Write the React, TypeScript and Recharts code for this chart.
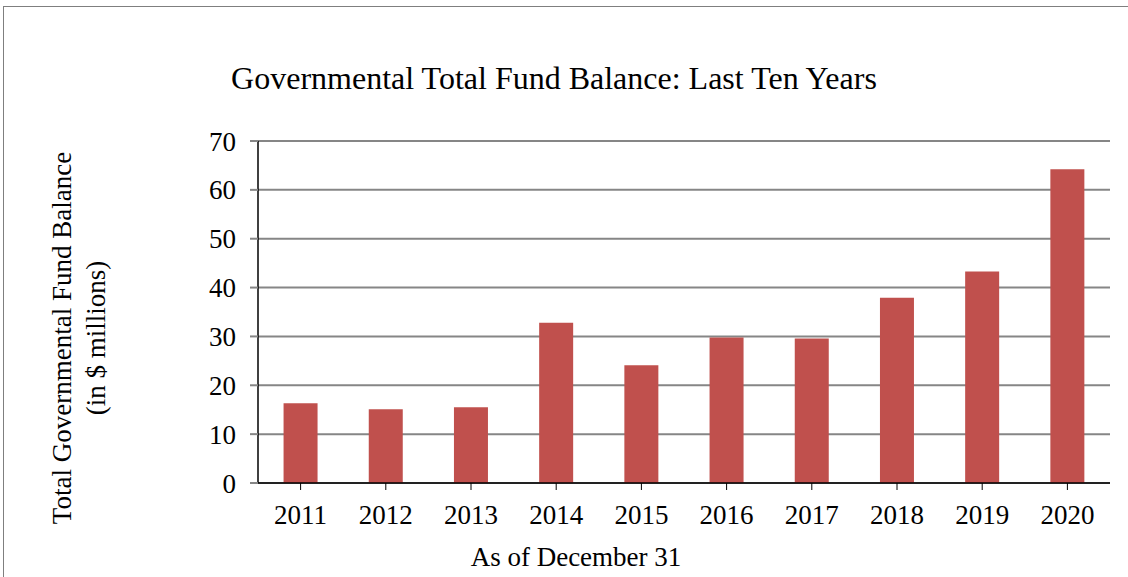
import { BarChart, Bar, XAxis, YAxis, CartesianGrid, Label } from 'recharts';

const years = ['2011', '2012', '2013', '2014', '2015', '2016', '2017', '2018', '2019', '2020'];
const fundBalance = [16.3, 15.1, 15.5, 32.8, 24.1, 29.8, 29.6, 37.9, 43.3, 64.2];
const yTicks = [0, 10, 20, 30, 40, 50, 60, 70];

const data = years.map((year, i) => ({ year, balance: fundBalance[i] }));

const FONT = '"Liberation Serif", "Times New Roman", serif';

const YTitle = () => (
  <text
    transform="translate(79, 338) rotate(-90)"
    textAnchor="middle"
    fontFamily={FONT}
    fontSize={27}
    fill="#000"
  >
    <tspan x={0} dy={-8}>Total Governmental Fund Balance</tspan>
    <tspan x={0} dy={34}>(in $ millions)</tspan>
  </text>
);

const XTitle = () => (
  <text x={576} y={566} textAnchor="middle" fontFamily={FONT} fontSize={27} fill="#000">
    As of December 31
  </text>
);

export default function App() {
  return (
    <div
      style={{
        position: 'absolute',
        left: 0,
        top: 0,
        width: 1128,
        height: 577,
        overflow: 'hidden',
        background: '#fff',
      }}
    >
      <div
        style={{
          position: 'absolute',
          left: 3,
          top: 6,
          width: 1300,
          height: 800,
          border: '1px solid #7f7f7f',
        }}
      />
      <div
        style={{
          position: 'absolute',
          left: 554,
          top: 60,
          transform: 'translateX(-50%)',
          whiteSpace: 'nowrap',
          fontFamily: FONT,
          fontSize: 32,
          color: '#000',
        }}
      >
        Governmental Total Fund Balance: Last Ten Years
      </div>
      <div style={{ position: 'absolute', left: 0, top: 0 }}>
        <BarChart
          width={1128}
          height={577}
          data={data}
          margin={{ top: 141, right: 18, bottom: 54, left: 198 }}
          barCategoryGap="30%"
        >
          <CartesianGrid vertical={false} stroke="#868686" strokeWidth={2} />
          <XAxis
            dataKey="year"
            height={40}
            tickLine={{ stroke: '#000' }}
            axisLine={{ stroke: '#000', strokeWidth: 1.5 }}
            tickSize={7}
            tickMargin={15}
            tick={{ fontFamily: FONT, fontSize: 27, fill: '#000' }}
            interval={0}
          >
            <Label content={<XTitle />} />
          </XAxis>
          <YAxis
            width={60}
            domain={[0, 70]}
            ticks={yTicks}
            interval={0}
            tickLine={{ stroke: '#868686', strokeWidth: 2 }}
            axisLine={{ stroke: '#000', strokeWidth: 1.5 }}
            tickSize={8}
            tickMargin={14}
            tick={{ fontFamily: FONT, fontSize: 27, fill: '#000' }}
          >
            <Label content={<YTitle />} />
          </YAxis>
          <Bar dataKey="balance" fill="#C0504D" isAnimationActive={false} />
        </BarChart>
      </div>
    </div>
  );
}
